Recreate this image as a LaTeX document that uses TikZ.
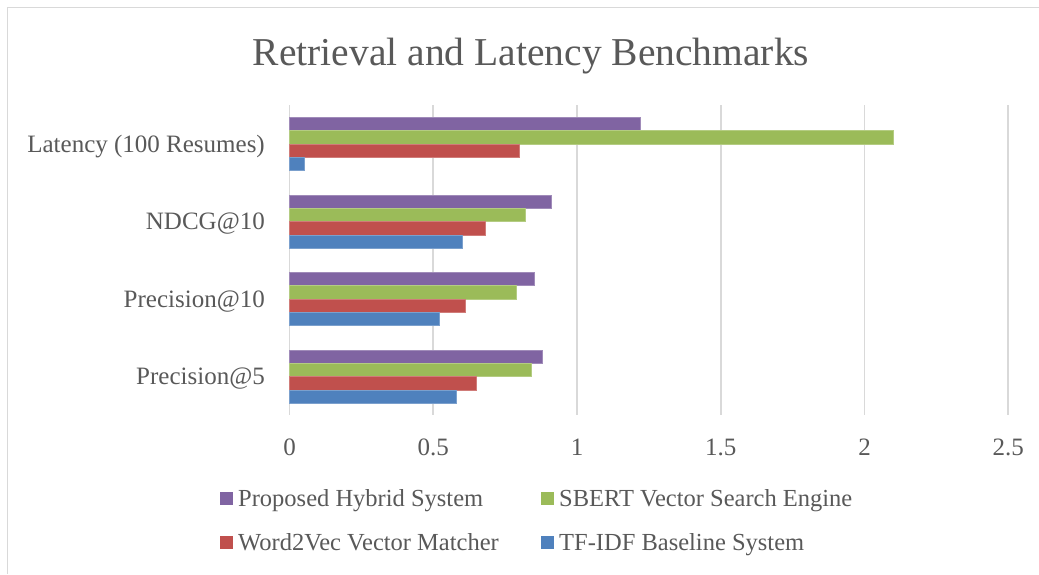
\documentclass[tikz,border=0pt]{standalone}
\usepackage{fontspec}
\setmainfont{Liberation Serif}
\definecolor{cpurple}{HTML}{8064A2}
\definecolor{cgreen}{HTML}{9BBB59}
\definecolor{cred}{HTML}{C0504D}
\definecolor{cblue}{HTML}{4F81BD}
\definecolor{txtgray}{HTML}{595959}
\definecolor{gridgray}{HTML}{D9D9D9}
\begin{document}
\begin{tikzpicture}[x=1pt,y=-1pt,
  lbl/.style={text=txtgray,inner sep=0pt,font=\fontsize{25}{30}\selectfont},
  leg/.style={text=txtgray,inner sep=0pt,font=\fontsize{24.5}{30}\selectfont},
  ttl/.style={text=txtgray,inner sep=0pt,font=\fontsize{39.5}{46}\selectfont},
  gline/.style={draw=gridgray,line width=1.7pt},
  bar/.style={fill=#1,draw=#1!75!white,line width=0.6pt},
  key/.style={fill=#1,draw=none,minimum size=13pt,inner sep=0pt,outer sep=0pt}]
\useasboundingbox (0,0) rectangle (1039,574);
\fill[white] (0,0) rectangle (1039,574);
% chart frame (left and top edges visible)
\draw[gridgray,line width=1.5pt] (7.5,574) -- (7.5,7.5) -- (1039,7.5);
% title
\node[ttl,anchor=base] (title) at (531,65) {Retrieval and Latency Benchmarks};
% gridlines and tick labels
\foreach \v/\t [count=\k] in {0/0,0.5/0.5,1/1,1.5/1.5,2/2,2.5/2.5} {
  \draw[gline] ({289.5+287.5*\v},105) -- ({289.5+287.5*\v},415);
  \node[lbl,anchor=base] (tick\k) at ({289.5+287.5*\v},455) {\t};
}
% bars
\foreach \i/\a/\b/\c/\d in {0/1.22/2.1/0.8/0.05, 1/0.91/0.82/0.68/0.60, 2/0.85/0.79/0.61/0.52, 3/0.88/0.84/0.65/0.58} {
  \pgfmathsetmacro\ytop{117.3+77.5*\i}
  \draw[bar=cpurple] (289.5,\ytop) rectangle ({289.5+287.5*\a},{\ytop+13.33});
  \draw[bar=cgreen] (289.5,{\ytop+13.33}) rectangle ({289.5+287.5*\b},{\ytop+26.67});
  \draw[bar=cred] (289.5,{\ytop+26.67}) rectangle ({289.5+287.5*\c},{\ytop+40});
  \draw[bar=cblue] (289.5,{\ytop+40}) rectangle ({289.5+287.5*\d},{\ytop+53.33});
}
% category labels
\node[lbl,anchor=base east] (catA) at (265,152.1) {Latency (100 Resumes)};
\node[lbl,anchor=base east] (catB) at (265,229.6) {NDCG@10};
\node[lbl,anchor=base east] (catC) at (265,307.1) {Precision@10};
\node[lbl,anchor=base east] (catD) at (265,384.6) {Precision@5};
% legend
\node[key=cpurple] (kA) at (226.5,498.5) {};
\node[leg,anchor=base west] (lA) at (238,506.8) {Proposed Hybrid System};
\node[key=cgreen] (kB) at (547.5,498.5) {};
\node[leg,anchor=base west] (lB) at (559,506.8) {SBERT Vector Search Engine};
\node[key=cred] (kC) at (226.5,542.3) {};
\node[leg,anchor=base west] (lC) at (238,550.6) {Word2Vec Vector Matcher};
\node[key=cblue] (kD) at (547.5,542.3) {};
\node[leg,anchor=base west] (lD) at (559,550.6) {TF-IDF Baseline System};
\end{tikzpicture}
\end{document}
